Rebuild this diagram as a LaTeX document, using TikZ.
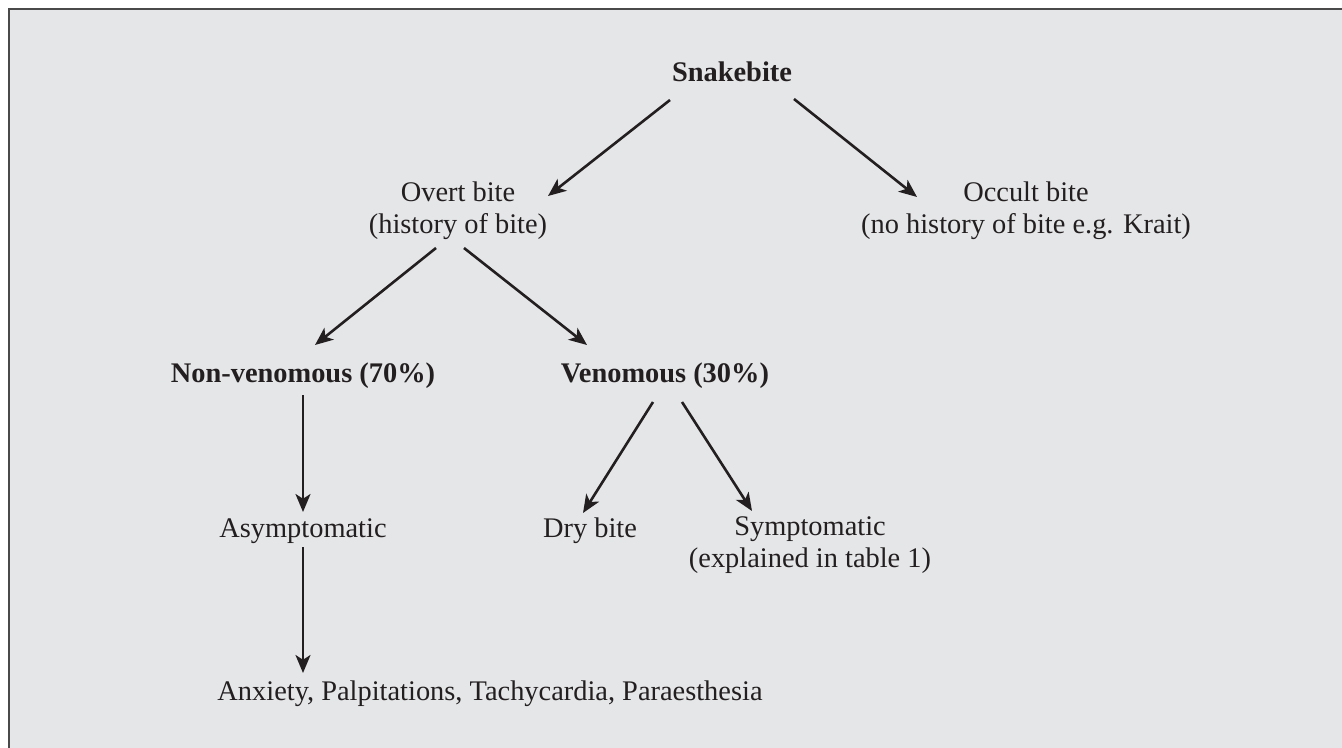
\documentclass[tikz,border=0pt]{standalone}
\usepackage{fontspec}
\setmainfont{Liberation Serif}
\usetikzlibrary{arrows.meta}
\definecolor{bggray}{HTML}{E5E6E8}
\definecolor{framegray}{HTML}{4A4A4A}
\definecolor{ink}{HTML}{231F20}
\tikzset{
  lbl/.style={inner sep=0pt, text=ink, font=\fontsize{14.2}{16}\selectfont, anchor=base, align=center},
  blbl/.style={lbl, font=\fontsize{14.2}{16}\selectfont\bfseries},
  arr/.style={draw=ink, line width=1.3pt, -{Stealth[length=9pt,width=7.5pt,inset=2.4pt]}}
}
\begin{document}
\begin{tikzpicture}[x=0.5pt,y=-0.5pt]
\useasboundingbox (0,0) rectangle (1342,748);
\fill[bggray] (8.5,9.5) rectangle (1342,748);
\draw[framegray, line width=1pt] (8.5,748) -- (8.5,9.5) -- (1342,9.5);

\node[blbl] (snake) at (732,82) {Snakebite};
\node[lbl] (overt) at (458,234) {Overt bite\\(history of bite)};
\node[lbl] (occult) at (1026,234) {Occult bite\\(no history of bite e.g. Krait)};
\node[blbl] (nonven) at (303,382) {Non-venomous (70\%)};
\node[blbl] (ven) at (665,382) {Venomous (30\%)};
\node[lbl] (asym) at (303,537) {Asymptomatic};
\node[lbl] (dry) at (590,537) {Dry bite};
\node[lbl] (symp) at (810,567) {Symptomatic\\(explained in table 1)};
\node[lbl] (anx) at (490,700) {Anxiety, Palpitations, Tachycardia, Paraesthesia};

\draw[arr] ([shift={(-62,18)}]snake.base) -- ([shift={(90,-38)}]overt.base);
\draw[arr] ([shift={(62,17)}]snake.base) -- ([shift={(-109,-37)}]occult.base);
\draw[arr] ([shift={(-22,14)}]overt.base) -- ([shift={(12,-37)}]nonven.base);
\draw[arr] ([shift={(6,14)}]overt.base) -- ([shift={(-78,-37)}]ven.base);
\draw[arr] ([shift={(0,13)}]nonven.base) -- ([shift={(0,-25)}]asym.base);
\draw[arr] ([shift={(-12,20)}]ven.base) -- ([shift={(-7,-24)}]dry.base);
\draw[arr] ([shift={(17,20)}]ven.base) -- ([shift={(-58,-56)}]symp.base);
\draw[arr] ([shift={(0,10)}]asym.base) -- ([shift={(-187,-27)}]anx.base);
\end{tikzpicture}
\end{document}
